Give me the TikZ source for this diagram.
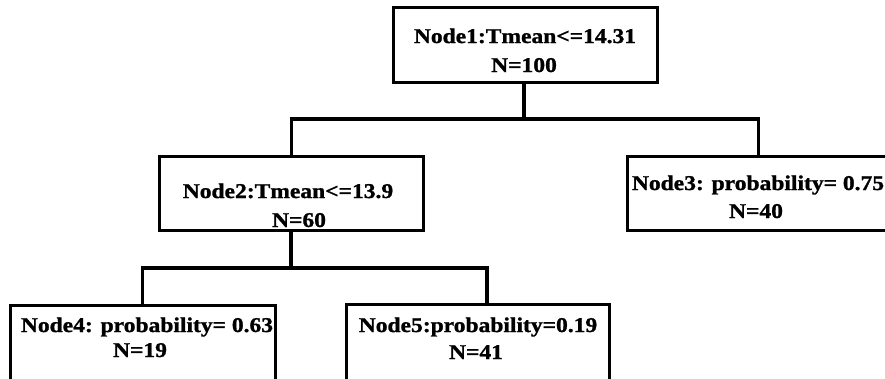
\documentclass[tikz,border=0pt]{standalone}
\usepackage{fontspec}
\newfontfamily\nodefont{Liberation Serif}[FakeStretch=1.12, FakeBold=1.2]
\tikzset{
  treebox/.style={draw=black, line width=3pt, rectangle, inner sep=0pt,
    minimum width=264pt, minimum height=75pt},
  treetxt/.style={anchor=base, inner sep=0pt, font=\nodefont\bfseries\fontsize{21}{25}\selectfont},
  treeline/.style={draw=black, line width=3.3pt}
}
\begin{document}
\begin{tikzpicture}[x=1pt,y=-1pt]
\useasboundingbox (0,0) rectangle (885,378);
\clip (0,0) rectangle (885,378);
% boxes
\node[treebox] (n1) at (525,45) {};
\node[treebox, minimum height=74pt] (n2) at (291.5,193) {};
\node[treebox, minimum width=263pt, minimum height=74pt] (n3) at (758.5,193) {};
\node[treebox, minimum width=265pt, minimum height=76pt] (n4) at (142.5,343) {};
\node[treebox, minimum width=263pt, minimum height=76pt] (n5) at (477.5,342) {};
% texts
\node[treetxt] (t1a) at (525,43) {Node1:Tmean<=14.31};
\node[treetxt] (t1b) at (524,72) {N=100};
\node[treetxt] (t2a) at (288,198) {Node2:Tmean<=13.9};
\node[treetxt] (t2b) at (299,227) {N=60};
\node[treetxt] (t3a) at (758,190) {Node3: probability= 0.75};
\node[treetxt] (t3b) at (756,218) {N=40};
\node[treetxt] (t4a) at (147,332) {Node4: probability= 0.63};
\node[treetxt] (t4b) at (140,357) {N=19};
\node[treetxt] (t5a) at (478,332) {Node5:probability=0.19};
\node[treetxt] (t5b) at (476,359) {N=41};
% connectors
\coordinate (j1) at (524,119);
\coordinate (j2) at (291,268);
\draw[treeline] (n1.south -| j1) -- (j1);
\draw[treeline] (n2.north) |- (j1) -| (n3.north);
\draw[treeline] (n2.south -| j2) -- (j2);
\draw[treeline] (n4.north) |- (j2) -| ([xshift=9.5pt]n5.north);
\end{tikzpicture}
\end{document}
